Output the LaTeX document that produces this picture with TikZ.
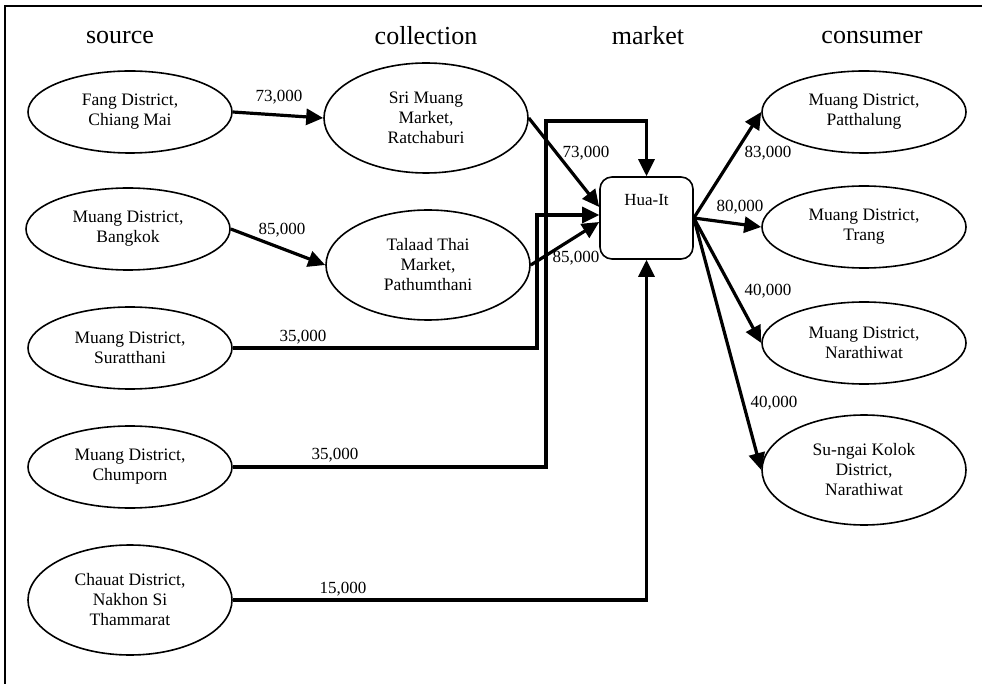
\documentclass[tikz,border=0pt]{standalone}
\usepackage{fontspec}
\setmainfont{Liberation Serif}
\usetikzlibrary{shapes.geometric,arrows.meta}

\tikzset{
  place/.style={ellipse, draw, line width=1.6pt, minimum width=204pt,
    minimum height=82pt, inner sep=0pt, align=center,
    font=\fontsize{17.5}{20}\selectfont},
  tallplace/.style={place, minimum height=110pt},
  hubbox/.style={draw, line width=1.6pt, rounded corners=12pt,
    minimum width=93pt, minimum height=82pt, inner sep=0pt},
  flow/.style={line width=3.2pt, -{Triangle[length=17pt,width=16pt]}},
  qty/.style={font=\fontsize{17}{19}\selectfont, inner sep=0pt},
  heading/.style={font=\fontsize{26}{30}\selectfont, inner sep=0pt},
}

\begin{document}
\begin{tikzpicture}[x=1pt, y=-1pt]
  \useasboundingbox (0,0) rectangle (982,684);
  \draw[line width=1.6pt] (5,6) rectangle (1000,700);

  % column headings
  \node[heading] (hsource) at (120,38) {source};
  \node[heading] (hcollect) at (426,36) {collection};
  \node[heading] (hmarket) at (648,36) {market};
  \node[heading] (hconsumer) at (872,38) {consumer};

  % sources
  \node[place] (fang) at (130,112) {Fang District,\\Chiang Mai};
  \node[place] (bkk) at (128,229) {Muang District,\\Bangkok};
  \node[place] (surat) at (130,348) {Muang District,\\Suratthani};
  \node[place] (chum) at (130,467) {Muang District,\\Chumporn};
  \node[tallplace] (chauat) at (130,600) {Chauat District,\\Nakhon Si\\Thammarat};

  % collection points
  \node[tallplace] (sri) at (426,118) {Sri Muang\\Market,\\Ratchaburi};
  \node[tallplace] (tal) at (428,265) {Talaad Thai\\Market,\\Pathumthani};

  % market
  \node[hubbox] (hua) at (646.5,218) {};
  \node[qty] (hualbl) at (646.5,200) {Hua-It};

  % consumers
  \node[place] (pat) at (864,112) {Muang District,\\Patthalung};
  \node[place] (trang) at (864,227) {Muang District,\\Trang};
  \node[place] (nara) at (864,343) {Muang District,\\Narathiwat};
  \node[tallplace] (sungai) at (864,470) {Su-ngai Kolok\\District,\\Narathiwat};

  % entry points on the market box and bends of the long lanes
  \coordinate (huaA) at ([yshift=11pt]hua.west);
  \coordinate (huaB) at ([yshift=3pt]hua.west);
  \coordinate (huaC) at ([yshift=-4pt]hua.west);
  \coordinate (bendS) at (537,0);
  \coordinate (bendC) at (546,121);

  % flows into collection
  \draw[flow] (fang.east) -- (sri.west);
  \draw[flow] (bkk.east) -- (tal.west);
  \node[qty] (q1) at (279,97) {73,000};
  \node[qty] (q2) at (282,230) {85,000};

  % flows into the market
  \draw[flow] (sri.east) -- (huaA);
  \draw[flow] (tal.east) -- (huaC);
  \draw[flow] (surat.east) -| (bendS |- huaB) -- (huaB);
  \draw[flow] (chum.east) -| (bendC) -| (hua.north);
  \draw[flow] (chauat.east) -| (hua.south);
  \node[qty] (q3) at (586,153) {73,000};
  \node[qty] (q4) at (576,258) {85,000};
  \node[qty] (q5) at (303,337) {35,000};
  \node[qty] (q6) at (335,455) {35,000};
  \node[qty] (q7) at (343,589) {15,000};

  % flows to consumers
  \draw[flow] (hua.east) -- (pat.west);
  \draw[flow] (hua.east) -- (trang.west);
  \draw[flow] (hua.east) -- (nara.west);
  \draw[flow] (hua.east) -- (sungai.west);
  \node[qty] (q8) at (768,153) {83,000};
  \node[qty] (q9) at (740,207) {80,000};
  \node[qty] (q10) at (768,291) {40,000};
  \node[qty] (q11) at (774,403) {40,000};
\end{tikzpicture}
\end{document}
